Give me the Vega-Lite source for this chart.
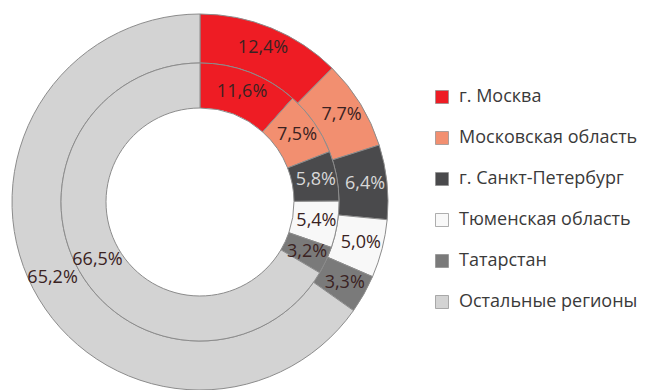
{
  "$schema": "https://vega.github.io/schema/vega-lite/v6.json",
  "width": 400,
  "height": 404,
  "padding": 0,
  "autosize": {"type": "pad"},
  "background": "white",
  "config": {"view": {"stroke": null}, "font": "Open Sans"},
  "data": {
    "values": [
      {"ring": "outer", "idx": 1, "region": "г. Москва", "value": 12.4, "label": "12,4%"},
      {"ring": "outer", "idx": 2, "region": "Московская область", "value": 7.7, "label": "7,7%"},
      {"ring": "outer", "idx": 3, "region": "г. Санкт-Петербург", "value": 6.4, "label": "6,4%"},
      {"ring": "outer", "idx": 4, "region": "Тюменская область", "value": 5.0, "label": "5,0%"},
      {"ring": "outer", "idx": 5, "region": "Татарстан", "value": 3.3, "label": "3,3%"},
      {"ring": "outer", "idx": 6, "region": "Остальные регионы", "value": 65.2, "label": "65,2%"},
      {"ring": "inner", "idx": 1, "region": "г. Москва", "value": 11.6, "label": "11,6%"},
      {"ring": "inner", "idx": 2, "region": "Московская область", "value": 7.5, "label": "7,5%"},
      {"ring": "inner", "idx": 3, "region": "г. Санкт-Петербург", "value": 5.8, "label": "5,8%"},
      {"ring": "inner", "idx": 4, "region": "Тюменская область", "value": 5.4, "label": "5,4%"},
      {"ring": "inner", "idx": 5, "region": "Татарстан", "value": 3.2, "label": "3,2%"},
      {"ring": "inner", "idx": 6, "region": "Остальные регионы", "value": 66.5, "label": "66,5%"}
    ]
  },
  "encoding": {
    "theta": {"field": "value", "type": "quantitative", "stack": true},
    "order": {"field": "idx", "type": "quantitative"}
  },
  "layer": [
    {
      "transform": [{"filter": "datum.ring === 'outer'"}],
      "mark": {"type": "arc", "radius": 188, "radius2": 139, "stroke": "#8c8c8c", "strokeWidth": 1},
      "encoding": {
        "color": {
          "field": "region",
          "type": "nominal",
          "sort": ["г. Москва", "Московская область", "г. Санкт-Петербург", "Тюменская область", "Татарстан", "Остальные регионы"],
          "scale": {
            "domain": ["г. Москва", "Московская область", "г. Санкт-Петербург", "Тюменская область", "Татарстан", "Остальные регионы"],
            "range": ["#ee1c24", "#f28f70", "#4a4a4c", "#f8f8f8", "#7a7a7a", "#d3d3d3"]
          },
          "legend": {
            "title": null,
            "orient": "none",
            "legendX": 433,
            "legendY": 88,
            "symbolType": "square",
            "symbolSize": 169,
            "symbolStrokeColor": "#b0b0b0",
            "symbolStrokeWidth": 0.7,
            "labelFontSize": 18,
            "labelColor": "#3a3a3a",
            "labelOffset": 8,
            "rowPadding": 23,
            "labelLimit": 300
          }
        }
      }
    },
    {
      "transform": [{"filter": "datum.ring === 'inner'"}],
      "mark": {"type": "arc", "radius": 139, "radius2": 94, "stroke": "#8c8c8c", "strokeWidth": 1},
      "encoding": {
        "color": {"field": "region", "type": "nominal"}
      }
    },
    {
      "transform": [{"filter": "datum.ring === 'outer'"}],
      "mark": {"type": "text", "radius": 166, "fontSize": 18},
      "encoding": {
        "text": {"field": "label"},
        "color": {
          "condition": {"test": "datum.idx === 3", "value": "#d8d8d8"},
          "value": "#3a2222"
        }
      }
    },
    {
      "transform": [{"filter": "datum.ring === 'inner'"}],
      "mark": {"type": "text", "radius": 118, "fontSize": 18},
      "encoding": {
        "text": {"field": "label"},
        "color": {
          "condition": {"test": "datum.idx === 3", "value": "#d8d8d8"},
          "value": "#3a2222"
        }
      }
    }
  ]
}
